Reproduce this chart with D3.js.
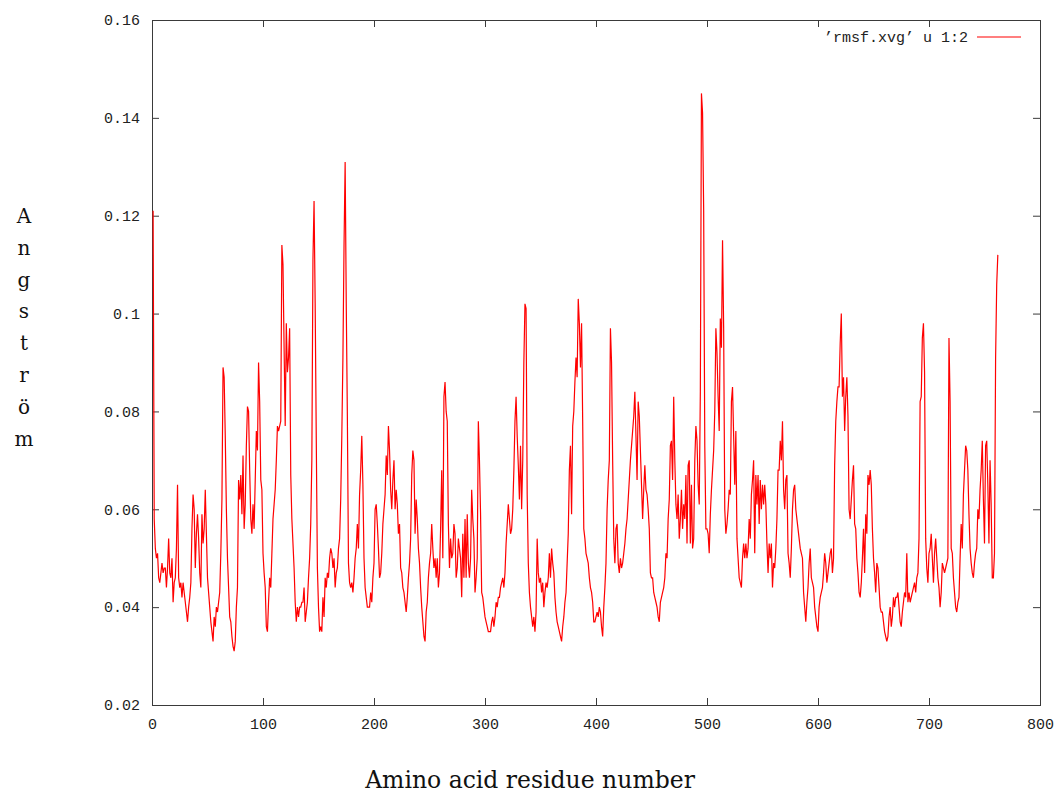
<!DOCTYPE html>
<html>
<head>
<meta charset="utf-8">
<script src="https://cdn.jsdelivr.net/npm/d3@7"></script>
<style>
  body { margin: 0; background: #fff; }
  svg { display: block; }
</style>
</head>
<body>
<svg id="chart" width="1057" height="794"></svg>
<script>
// RMSF per residue (nm), residue numbers start at 1
const firstResidue = 1;
const rmsf = [
  .121,.058,.052,.050,.051,.046,.045,.047,.049,.047,
  .048,.048,.044,.048,.054,.047,.046,.050,.041,.045,
  .046,.052,.065,.046,.044,.045,.042,.045,.043,.041,
  .039,.037,.040,.042,.045,.056,.063,.060,.048,.055,
  .059,.054,.047,.044,.059,.053,.056,.064,.055,.046,
  .043,.040,.037,.035,.033,.038,.036,.040,.039,.041,
  .043,.051,.062,.089,.087,.075,.060,.050,.044,.038,
  .037,.034,.032,.031,.033,.040,.044,
  .066,.062,.067,.059,.071,.056,.061,.073,.081,.080,
  .068,.058,.055,.061,.056,.066,.076,.072,.090,.082,
  .066,.064,.051,.047,.044,.036,.035,.041,.046,.044,
  .051,.058,.061,.064,.070,.077,.076,.077,.078,.114,
  .110,.093,.077,.098,.088,.091,.097,.067,.058,.053,
  .048,.041,.037,.040,.038,.040,.040,.041,.041,.044,
  .037,.039,.041,.046,.050,.057,.070,.111,.123,.102,
  .074,.048,.040,.035,.036,.035,.042,
  .038,.046,.044,.047,.046,.050,.052,.051,.048,.050,
  .044,.047,.048,.052,.054,.062,.075,.091,.114,.131,
  .102,.079,.049,.045,.044,.045,.043,.046,.050,.052,
  .057,.052,.063,.068,.075,.065,.050,.044,.042,.040,
  .040,.040,.043,.041,.046,.049,.060,.061,.057,.052,
  .046,.047,.051,.057,.060,.063,.071,.067,.077,.072,
  .064,.060,.066,.070,.060,.064,.061,.055,.057,.048,
  .047,.044,.043,.041,.039,.042,.046,
  .049,.054,.067,.072,.070,.055,.062,.058,.052,.049,
  .044,.040,.037,.034,.033,.039,.041,.046,.049,.051,
  .057,.052,.048,.050,.046,.050,.044,.047,.056,.068,
  .050,.083,.086,.080,.078,.057,.048,.054,.050,.051,
  .057,.055,.046,.048,.054,.052,.050,.042,.055,.046,
  .058,.046,.059,.049,.046,.050,.064,.058,.054,.043,
  .046,.050,.078,.070,.059,.043,.042,.040,.038,.037,
  .036,.035,.035,.035,.037,.038,
  .036,.038,.041,.040,.042,.042,.044,.045,.046,.044,
  .047,.053,.057,.061,.058,.055,.056,.060,.068,.078,
  .083,.075,.069,.062,.073,.060,.070,.090,.102,.101,
  .063,.049,.043,.040,.038,.036,.038,.035,.039,.054,
  .047,.045,.046,.043,.045,.040,.043,.045,.044,.046,
  .051,.046,.052,.049,.047,.042,.039,.037,.036,.035,
  .034,.033,.036,.038,.041,.043,.049,.055,.068,.073,
  .059,.077,.080,.086,.091,.087,.103,
  .098,.089,.098,.078,.056,.054,.051,.050,.049,.046,
  .044,.043,.041,.037,.037,.038,.039,.038,.040,.039,
  .036,.034,.040,.044,.049,.060,.066,.070,.097,.090,
  .070,.054,.049,.056,.057,.049,.047,.050,.048,.049,
  .051,.053,.056,.058,.062,.066,.070,.073,.076,.079,
  .084,.075,.066,.082,.079,.072,.065,.058,.064,.069,
  .064,.063,.060,.056,.047,.046,.046,.043,.042,.041,
  .040,.038,.037,.041,.042,.043,.044,.046,.051,
  .050,.058,.062,.073,.074,.066,.083,.070,.061,.058,
  .063,.054,.058,.064,.056,.061,.058,.067,.053,.069,
  .070,.053,.065,.052,.054,.070,.077,.074,.065,.061,
  .084,.145,.141,.121,.073,.056,.056,.055,.051,.059,
  .064,.068,.072,.080,.097,.092,.083,.076,.099,.093,
  .115,.097,.060,.055,.057,.060,.064,.063,.082,.085,
  .075,.065,.076,.054,.050,.046,.045,.044,.050,.053,
  .050,.053,.050,.052,.058,.054,.063,.066,
  .070,.051,.067,.061,.067,.057,.066,.060,.065,.061,
  .065,.061,.053,.047,.053,.050,.053,.044,.049,.048,
  .052,.058,.068,.068,.074,.070,.078,.064,.060,.066,
  .067,.051,.049,.046,.052,.060,.064,.065,.060,.058,
  .056,.054,.052,.051,.050,.043,.040,.037,.041,.044,
  .049,.052,.046,.045,.044,.040,.038,.036,.035,.040,
  .042,.043,.044,.047,.051,.049,.045,.047,.049,.051,
  .052,.047,.050,.069,.078,.082,.085,
  .085,.094,.100,.083,.087,.076,.083,.087,.079,.060,
  .058,.062,.066,.069,.057,.056,.050,.047,.043,.042,
  .045,.050,.056,.047,.059,.055,.067,.065,.068,.065,
  .056,.050,.047,.043,.049,.048,.044,.040,.039,.039,
  .037,.035,.034,.033,.034,.038,.040,.036,.038,.042,
  .040,.042,.042,.043,.040,.037,.036,.039,.041,.043,
  .042,.051,.041,.043,.041,.042,.043,.044,.045,.043,
  .046,.047,.054,.082,.083,
  .095,.098,.088,.054,.048,.045,.051,.052,.055,.050,
  .045,.051,.054,.050,.046,.044,.040,.043,.049,.048,
  .047,.048,.049,.050,.095,.082,.052,.051,.046,.043,
  .040,.039,.041,.042,.050,.057,.052,.063,.068,.073,
  .072,.068,.059,.052,.049,.047,.046,.049,.051,.052,
  .060,.058,.064,.068,.074,.062,.053,.073,.074,.065,
  .053,.070,.061,.046,.046,.051,.091,.106,.112
];

const xDomain = [0, 800];
const yDomain = [0.02, 0.16];
const xTicks = [0, 100, 200, 300, 400, 500, 600, 700, 800];
const xTickLabels = ["0", "100", "200", "300", "400", "500", "600", "700", "800"];
const yTicks = [0.02, 0.04, 0.06, 0.08, 0.10, 0.12, 0.14, 0.16];
const yTickLabels = ["0.02", "0.04", "0.06", "0.08", "0.1", "0.12", "0.14", "0.16"];
const seriesLabel = "\u2019rmsf.xvg\u2019 u 1:2";
const xTitle = "Amino acid residue number";
const yTitleLetters = ["A", "n", "g", "s", "t", "r", "ö", "m"];

const plot = { left: 152, right: 1040, top: 20, bottom: 705 };
const tickFont = "'Liberation Mono', 'DejaVu Sans Mono', monospace";
const titleFont = "'DejaVu Serif', 'Liberation Serif', serif";
const frameColor = "#3a3a3a";
const lineColor = "#ff0000";
const tickLen = 7;

const svg = d3.select("#chart");
svg.append("rect").attr("width", 1057).attr("height", 794).attr("fill", "#fff");

const x = d3.scaleLinear().domain(xDomain).range([plot.left, plot.right]);
const y = d3.scaleLinear().domain(yDomain).range([plot.bottom, plot.top]);

function styleAxis(g, showLabels) {
  g.select(".domain").remove();
  g.selectAll(".tick line").attr("stroke", frameColor).attr("stroke-width", 1);
  g.selectAll(".tick text")
    .attr("fill", showLabels ? "#222" : "none")
    .style("font-family", tickFont)
    .style("font-size", "15px");
}

// bottom axis with labels, ticks pointing into the plot
svg.append("g")
  .attr("transform", `translate(0,${plot.bottom})`)
  .call(d3.axisBottom(x).tickValues(xTicks)
    .tickFormat((d, i) => xTickLabels[i])
    .tickSize(-tickLen).tickSizeOuter(0).tickPadding(13))
  .call(g => styleAxis(g, true));

// mirrored top ticks
svg.append("g")
  .attr("transform", `translate(0,${plot.top})`)
  .call(d3.axisTop(x).tickValues(xTicks).tickFormat(() => "")
    .tickSize(-tickLen).tickSizeOuter(0))
  .call(g => styleAxis(g, false));

// left axis with labels
svg.append("g")
  .attr("transform", `translate(${plot.left},0)`)
  .call(d3.axisLeft(y).tickValues(yTicks)
    .tickFormat((d, i) => yTickLabels[i])
    .tickSize(-tickLen).tickSizeOuter(0).tickPadding(12))
  .call(g => styleAxis(g, true));

// mirrored right ticks
svg.append("g")
  .attr("transform", `translate(${plot.right},0)`)
  .call(d3.axisRight(y).tickValues(yTicks).tickFormat(() => "")
    .tickSize(-tickLen).tickSizeOuter(0))
  .call(g => styleAxis(g, false));

// plot border
svg.append("rect")
  .attr("x", plot.left + 0.5).attr("y", plot.top + 0.5)
  .attr("width", plot.right - plot.left).attr("height", plot.bottom - plot.top)
  .attr("fill", "none").attr("stroke", frameColor).attr("stroke-width", 1);

// RMSF trace
const line = d3.line()
  .x((d, i) => x(firstResidue + i))
  .y(d => y(d));

svg.append("path")
  .datum(rmsf)
  .attr("d", line)
  .attr("fill", "none")
  .attr("stroke", lineColor)
  .attr("stroke-width", 1.2)
  .attr("stroke-linejoin", "miter");

// key in the top-right corner
const keyY = 37;
svg.append("text")
  .attr("x", 968).attr("y", keyY)
  .attr("dy", "0.32em")
  .attr("text-anchor", "end")
  .style("font-family", tickFont)
  .style("font-size", "15px")
  .attr("fill", "#222")
  .text(seriesLabel);
svg.append("line")
  .attr("x1", 977).attr("x2", 1021)
  .attr("y1", keyY).attr("y2", keyY)
  .attr("stroke", lineColor).attr("stroke-width", 1.2);

// axis titles
svg.append("text")
  .attr("x", 530).attr("y", 788)
  .attr("text-anchor", "middle")
  .style("font-family", titleFont)
  .style("font-size", "23.5px")
  .attr("fill", "#111")
  .text(xTitle);

const yTitle = svg.append("text")
  .attr("text-anchor", "middle")
  .style("font-family", titleFont)
  .style("font-size", "20px")
  .attr("fill", "#111");
yTitle.selectAll("tspan")
  .data(yTitleLetters)
  .join("tspan")
  .attr("x", 24)
  .attr("y", (d, i) => 223 + i * 31.8)
  .text(d => d);
</script>
</body>
</html>
